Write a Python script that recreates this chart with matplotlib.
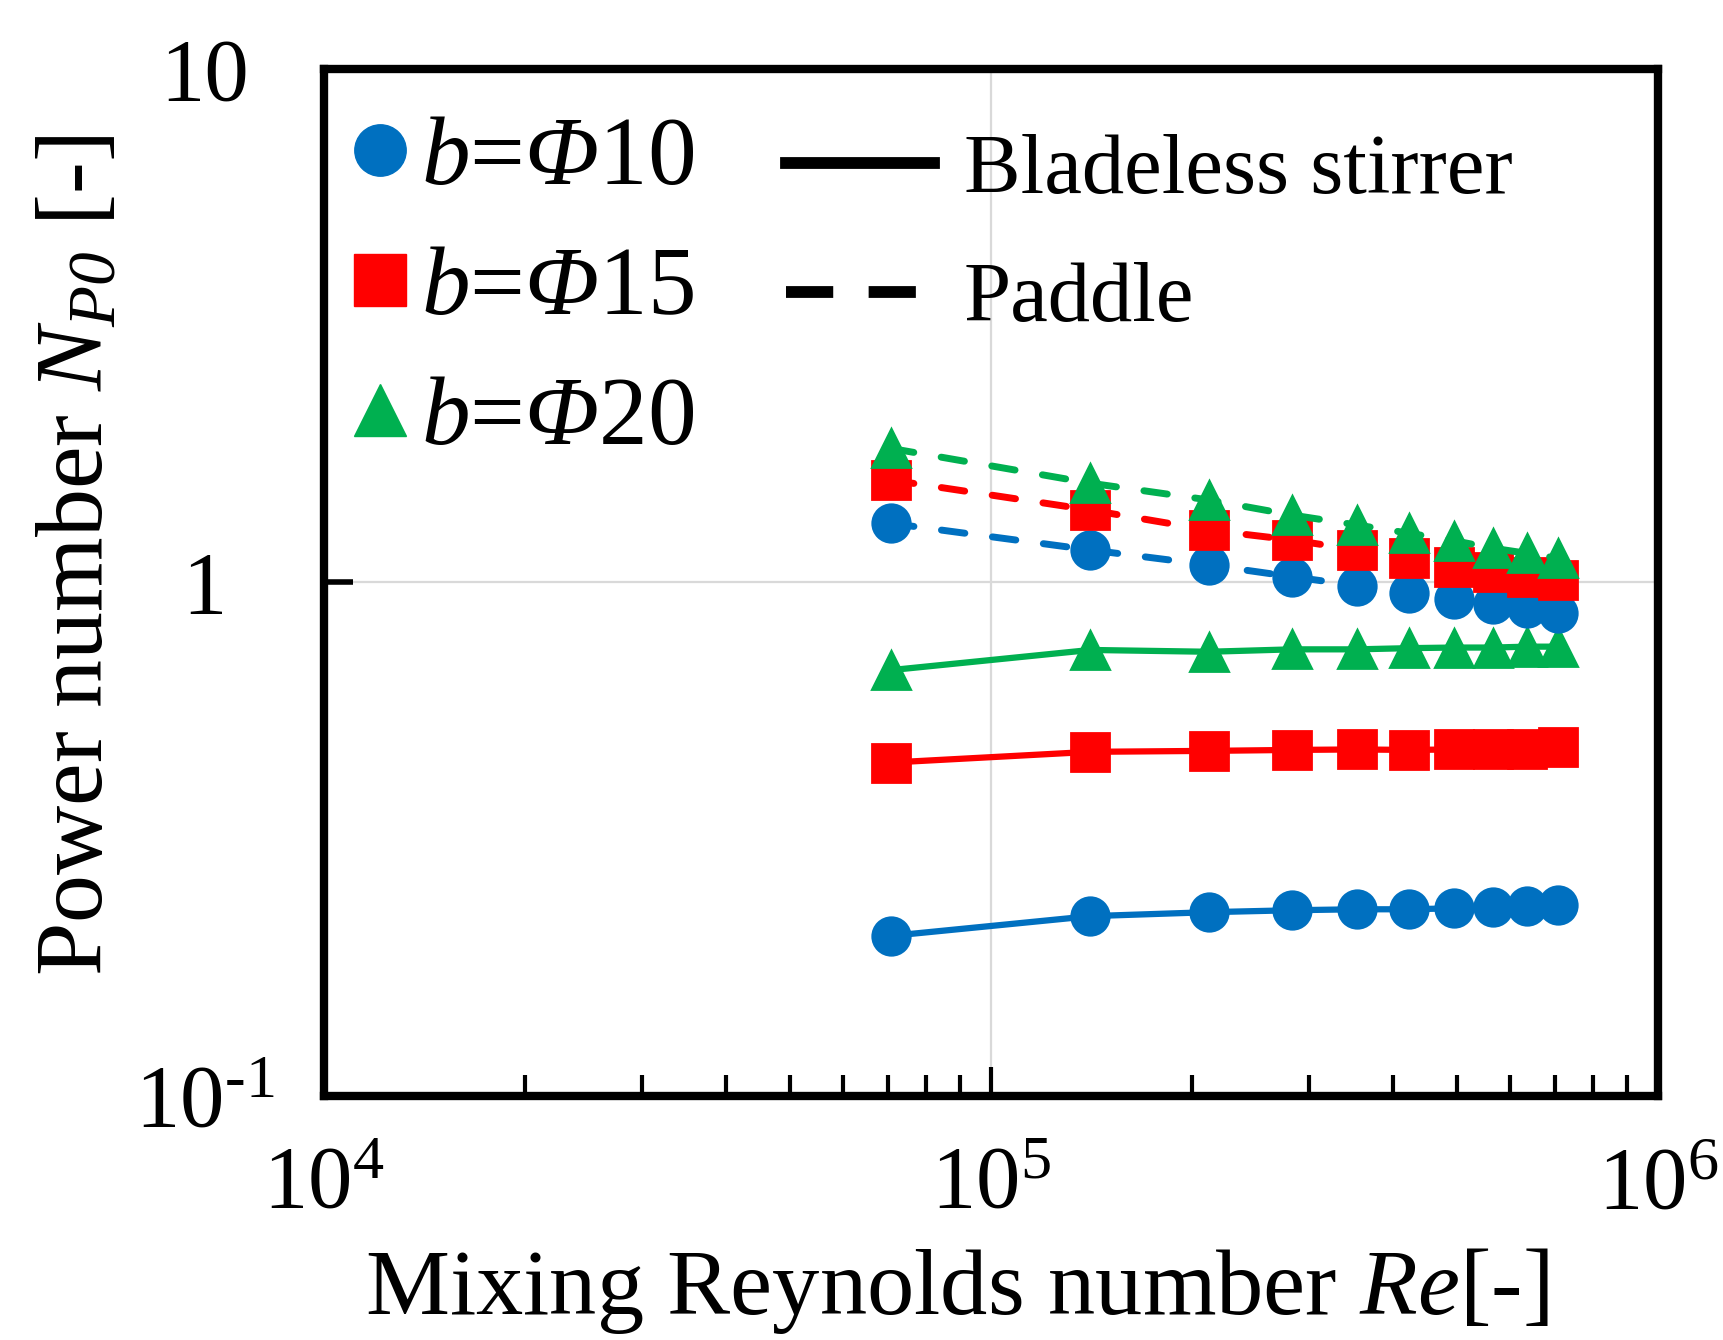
import matplotlib
matplotlib.use("Agg")
import matplotlib.pyplot as plt
from matplotlib.lines import Line2D
from matplotlib.ticker import FixedLocator, LogLocator, NullFormatter, NullLocator

plt.rcParams['font.family'] = 'Liberation Serif'
plt.rcParams['mathtext.fontset'] = 'custom'
plt.rcParams['mathtext.rm'] = 'Liberation Serif'
plt.rcParams['mathtext.it'] = 'Liberation Serif:italic'
plt.rcParams['mathtext.cal'] = 'Liberation Serif:italic'

# Mixing Reynolds number, shared by every series
re = [7.07e4, 1.41e5, 2.12e5, 2.83e5, 3.54e5, 4.24e5, 4.95e5, 5.66e5, 6.36e5, 7.07e5]

# Bladeless stirrer (solid)
blade_10 = [0.205, 0.224, 0.228, 0.230, 0.231, 0.231, 0.232, 0.233, 0.234, 0.235]
blade_15 = [0.446, 0.468, 0.470, 0.472, 0.473, 0.472, 0.473, 0.474, 0.474, 0.479]
blade_20 = [0.675, 0.739, 0.733, 0.741, 0.741, 0.745, 0.747, 0.747, 0.750, 0.750]

# Paddle (dashed)
paddle_10 = [1.304, 1.157, 1.082, 1.026, 0.986, 0.955, 0.929, 0.907, 0.891, 0.873]
paddle_15 = [1.584, 1.384, 1.265, 1.210, 1.157, 1.115, 1.073, 1.050, 1.026, 1.011]
paddle_20 = [1.825, 1.561, 1.448, 1.353, 1.294, 1.247, 1.206, 1.166, 1.140, 1.115]

SERIES_LABELS = [r'$b$=$\mathcal{\Phi}$10', r'$b$=$\mathcal{\Phi}$15', r'$b$=$\mathcal{\Phi}$20']
STYLE_LABELS = ['Bladeless stirrer', 'Paddle']

XTICKS = [1e4, 1e5, 1e6]
XTICK_LABELS = [r'$\mathdefault{10^{4}}$', r'$\mathdefault{10^{5}}$', r'$\mathdefault{10^{6}}$']
YTICKS = [0.1, 1, 10]
YTICK_LABELS = [r'$\mathdefault{10^{\text{-}1}}$', '1', '10']

BLUE, RED, GREEN = '#0070C0', '#FF0000', '#00B050'
MARKERS = ['o', 's', '^']
COLORS = [BLUE, RED, GREEN]

fig = plt.figure(figsize=(17.24, 13.4), dpi=100)
ax = fig.add_axes([0.1879, 0.1821, 0.7738, 0.7664])

dash = (0, (3.4, 4.0))
for ys, m, c in zip([blade_10, blade_15, blade_20], MARKERS, COLORS):
    ax.plot(re, ys, color=c, lw=4.5, marker=m, ms=27, mew=2,
            mec=c, solid_joinstyle='round', zorder=3)
for ys, m, c in zip([paddle_10, paddle_15, paddle_20], MARKERS, COLORS):
    ax.plot(re, ys, color=c, lw=5, ls=dash, dash_capstyle='round',
            marker=m, ms=27, mew=2, mec=c, zorder=3)

ax.set_xscale('log')
ax.set_yscale('log')
ax.set_xlim(1e4, 1e6)
ax.set_ylim(0.1, 10)

ax.xaxis.set_major_locator(FixedLocator(XTICKS))
ax.set_xticklabels(XTICK_LABELS)
ax.xaxis.set_minor_locator(LogLocator(base=10, subs=range(2, 10)))
ax.xaxis.set_minor_formatter(NullFormatter())
ax.yaxis.set_major_locator(FixedLocator(YTICKS))
ax.set_yticklabels(YTICK_LABELS)
ax.yaxis.set_minor_locator(NullLocator())

ax.grid(True, which='major', color='#d9d9d9', lw=1.6, zorder=0)
for s in ax.spines.values():
    s.set_linewidth(6)
    s.set_capstyle('projecting')

ax.tick_params(axis='x', which='major', direction='in', length=21, width=3,
               labelsize=64, pad=36)
ax.tick_params(axis='x', which='minor', direction='in', length=15, width=3)
ax.tick_params(axis='y', which='major', direction='in', length=21, width=4,
               labelsize=64, pad=86)
for lab in ax.get_yticklabels():
    lab.set_horizontalalignment('center')

ax.set_xlabel(r'Mixing Reynolds number $Re$[-]', fontsize=68)
ax.xaxis.set_label_coords(0.4745, -0.146)
ax.set_ylabel(r'Power number $N_{\mathcal{P0}}$ [-]', fontsize=69)
ax.yaxis.set_label_coords(-0.151, 0.526)

h1 = [Line2D([], [], ls='none', marker=m, ms=37, color=c, mec=c)
      for m, c in zip(MARKERS, COLORS)]
leg1 = ax.legend(h1, SERIES_LABELS, loc='upper left',
                 bbox_to_anchor=(0.0217, 0.954), frameon=False, fontsize=70,
                 handlelength=0.55, handletextpad=0.15, labelspacing=0.42,
                 borderpad=0, borderaxespad=0)
ax.add_artist(leg1)

h2 = [Line2D([], [], color='black', lw=8.5),
      Line2D([], [], color='black', lw=8.5, ls=(0, (4, 3)))]
ax.legend(h2, STYLE_LABELS, loc='upper left', bbox_to_anchor=(0.3463, 0.937),
          frameon=False, fontsize=61, handlelength=1.75, handletextpad=0.35,
          labelspacing=0.6, borderpad=0, borderaxespad=0)

fig.savefig('out.png', dpi=100)
